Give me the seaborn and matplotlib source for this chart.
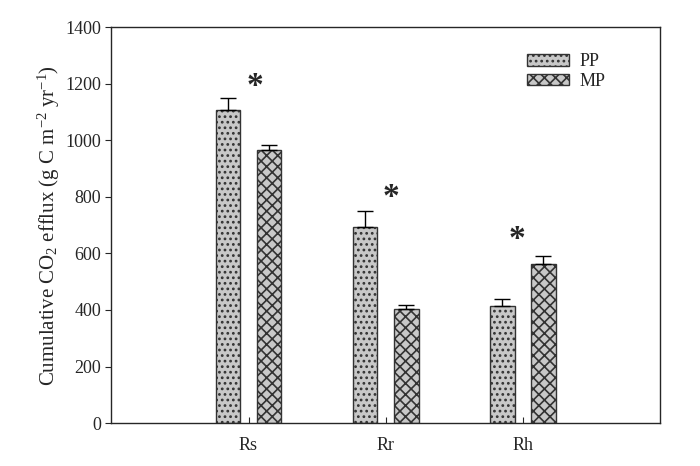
import numpy as np
import pandas as pd
import matplotlib
matplotlib.use('Agg')
import matplotlib.pyplot as plt
from matplotlib.patches import Patch
import seaborn as sns

components = ['Rs', 'Rr', 'Rh']
treatments = ['PP', 'MP']
pp_mean = [1106, 693, 414]
pp_err = [43, 57, 24]
mp_mean = [965, 403, 562]
mp_err = [18, 14, 28]
star_y = [1190, 798, 650]
star_dx = [0.05, 0.04, -0.04]

df = pd.DataFrame({
    'component': components * 2,
    'treatment': ['PP'] * 3 + ['MP'] * 3,
    'flux': pp_mean + mp_mean,
    'err': pp_err + mp_err,
})

sns.set_style('ticks')
serif = ['Liberation Serif', 'DejaVu Serif']
plt.rcParams['font.family'] = 'serif'
plt.rcParams['font.serif'] = serif
plt.rcParams['mathtext.fontset'] = 'custom'
plt.rcParams['mathtext.rm'] = 'Liberation Serif'
plt.rcParams['mathtext.it'] = 'Liberation Serif:italic'
plt.rcParams['hatch.linewidth'] = 1.2

fig, ax = plt.subplots(figsize=(7, 4.66), dpi=100)
fig.subplots_adjust(left=0.159, right=0.943, top=0.942, bottom=0.092)

sns.barplot(data=df, x='component', y='flux', hue='treatment', order=components,
            hue_order=treatments, errorbar=None, width=0.6, gap=0.4,
            palette=['#c8c8c8', '#c8c8c8'],
            edgecolor='#333333', linewidth=1.0, ax=ax, legend=False)

hatches = {'PP': '...', 'MP': 'xxx'}
for container, trt in zip(ax.containers, treatments):
    sub = df[df.treatment == trt].set_index('component').loc[components]
    xs = []
    for bar in container:
        bar.set_hatch(hatches[trt])
        xs.append(bar.get_x() + bar.get_width() / 2)
    ax.errorbar(xs, sub['flux'], yerr=[np.zeros(3), sub['err']], fmt='none',
                ecolor='black', elinewidth=1.0, capsize=6, capthick=1.0)

for i, comp in enumerate(components):
    ax.text(i + star_dx[i], star_y[i], '*', ha='center', va='center',
            fontsize=24, fontweight='bold', family=serif)

ax.set_xlim(-1, 3)
ax.set_ylim(0, 1400)
ax.set_yticks(range(0, 1401, 200))
ax.set_xlabel('')
ax.set_ylabel('Cumulative CO$_2$ efflux (g C m$^{-2}$ yr$^{-1}$)', fontsize=15,
              family=serif, labelpad=2)
ax.tick_params(axis='y', direction='out', length=4, labelsize=13)
ax.tick_params(axis='x', direction='in', length=4, labelsize=13, pad=10)
for lab in ax.get_xticklabels() + ax.get_yticklabels():
    lab.set_family(serif)
for s in ax.spines.values():
    s.set_linewidth(1.0)

handles = [Patch(facecolor='#c8c8c8', edgecolor='#333333', hatch=hatches[t], label=t)
           for t in treatments]
ax.legend(handles=handles, loc='upper right', bbox_to_anchor=(0.93, 0.975),
          frameon=False, prop={'family': serif, 'size': 13}, handlelength=2.3,
          handleheight=0.6, labelspacing=0.15, handletextpad=0.6)

fig.savefig('out.png', dpi=100)
